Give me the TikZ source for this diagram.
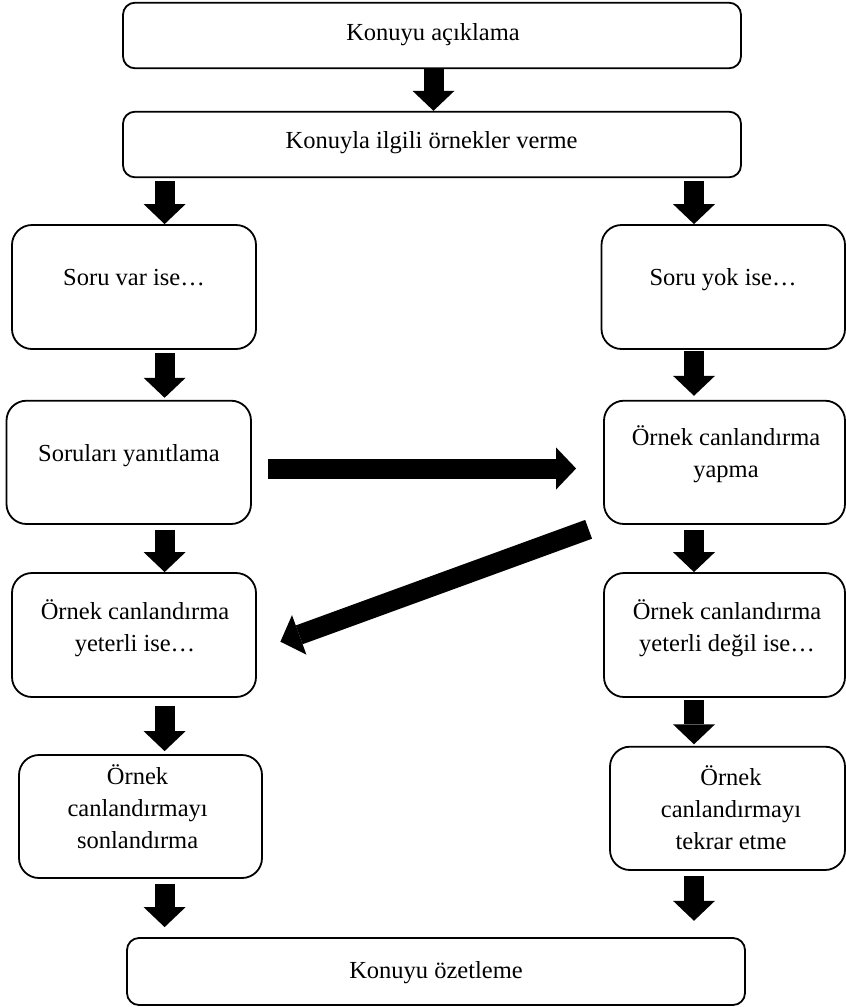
\documentclass[tikz,border=0pt]{standalone}
\usepackage{fontspec}
\setmainfont{Liberation Serif}
\usetikzlibrary{arrows.meta,calc}
\begin{document}
\begin{tikzpicture}[x=1pt,y=1pt,
  box/.style={draw,line width=1.8pt,rounded corners=#1,inner sep=0pt},
  box/.default=20pt,
  txt/.style={font=\fontsize{24.5}{32}\selectfont,align=center,anchor=base,inner sep=0pt},
  barrow/.style={line width=20pt,-{Triangle[length=20pt,width=42pt,line width=0pt]}}]
\useasboundingbox (0,0) rectangle (846,-1007);
% boxes
\node[box=12pt,minimum width=618pt,minimum height=65.6pt] (b1) at (432,-35.5) {};
\node[box=12pt,minimum width=618pt,minimum height=65.6pt] (b2) at (432,-144.5) {};
\node[box,minimum width=244pt,minimum height=124pt] (b3l) at (134,-287) {};
\node[box,minimum width=243.5pt,minimum height=124pt] (b3r) at (723.25,-287) {};
\node[box,minimum width=244.5pt,minimum height=123.3pt] (b4l) at (128.75,-462.35) {};
\node[box,minimum width=241pt,minimum height=123.3pt] (b4r) at (724.5,-462.35) {};
\node[box,minimum width=244pt,minimum height=124pt] (b5l) at (134,-635) {};
\node[box,minimum width=241pt,minimum height=124pt] (b5r) at (724.5,-635) {};
\node[box,minimum width=243pt,minimum height=123pt] (b6l) at (140.5,-816.5) {};
\node[box,minimum width=235pt,minimum height=123.3pt] (b6r) at (727.5,-808.35) {};
\node[box=12pt,minimum width=618pt,minimum height=67pt] (b7) at (436,-971.5) {};
% texts (anchor = baseline of last line)
\node[txt] (t1) at (433,-40) {Konuyu açıklama};
\node[txt] (t2) at (431.5,-148) {Konuyla ilgili örnekler verme};
\node[txt] (t3l) at (134,-285.5) {Soru var ise…};
\node[txt] (t3r) at (723,-285.5) {Soru yok ise…};
\node[txt] (t4l) at (129,-461) {Soruları yanıtlama};
\node[txt] (t4r) at (726,-477) {Örnek canlandırma\\yapma};
\node[txt] (t5l) at (135,-651) {Örnek canlandırma\\yeterli ise…};
\node[txt] (t5r) at (727,-651) {Örnek canlandırma\\yeterli değil ise…};
\node[txt] (t6l) at (137.6,-848) {Örnek\\canlandırmayı\\sonlandırma};
\node[txt] (t6r) at (731,-849) {Örnek\\canlandırmayı\\tekrar etme};
\node[txt] (t7) at (436,-978) {Konuyu özetleme};
% column coordinates
\coordinate (cl) at (164.6,0);
\coordinate (cr) at (694,0);
% arrows
\draw[barrow] ($(b1.south -| 433.5,0)+(0,1.5)$) -- (b2.north -| 433.5,0);
\draw[barrow] ($(b2.south -| cl)+(0,-3)$) -- (b3l.north -| cl);
\draw[barrow] ($(b2.south -| cr)+(0,-3)$) -- (b3r.north -| cr);
\draw[barrow] ($(b3l.south -| cl)+(0,-3)$) -- ($(b4l.north -| cl)+(0,2)$);
\draw[barrow] ($(b3r.south -| cr)+(0,-1)$) -- ($(b4r.north -| cr)+(0,4)$);
\draw[barrow] ($(b4l.south -| cl)+(0,-5)$) -- (b5l.north -| cl);
\draw[barrow] ($(b4r.south -| cr)+(0,-5)$) -- (b5r.north -| cr);
\draw[barrow] ($(b5l.south -| cl)+(0,-8)$) -- ($(b6l.north -| cl)+(0,3)$);
\draw[barrow] ($(b5r.south -| cr)+(0,-2)$) -- ($(b6r.north -| cr)+(0,1.5)$);
\draw[barrow] ($(b6l.south -| cl)+(0,-4.7)$) -- ($(b7.north -| cl)+(0,10)$);
\draw[barrow] ($(b6r.south -| cr)+(0,-5)$) -- ($(b7.north -| cr)+(0,16.3)$);
\draw[barrow] ($(b4l.east)+(16,-6.15)$) -- ($(b4r.west)+(-27,-6.15)$);
\draw[barrow] ($(b4r.south west)+(-14.5,-4.4)$) -- ($(b5l.east)+(23.5,-6.7)$);
\end{tikzpicture}
\end{document}
